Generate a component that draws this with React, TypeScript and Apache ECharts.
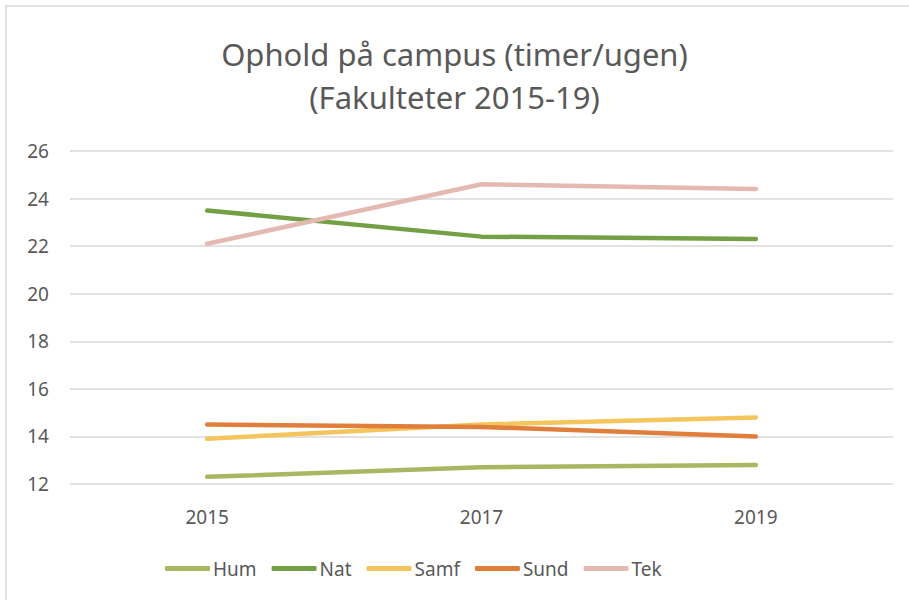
import React, { useEffect, useRef } from "react";
import * as echarts from "echarts";

const years = ["2015", "2017", "2019"];
const seriesNames = ["Hum", "Nat", "Samf", "Sund", "Tek"];
const hum = [12.3, 12.7, 12.8];
const nat = [23.5, 22.4, 22.3];
const samf = [13.9, 14.5, 14.8];
const sund = [14.5, 14.4, 14.0];
const tek = [22.1, 24.6, 24.4];
const colors = ["#A9B762", "#73A045", "#F4C55C", "#E07E3C", "#E4B9B2"];

export default function App() {
  const ref = useRef<HTMLDivElement>(null);
  useEffect(() => {
    document.body.style.margin = "0";
    const chart = echarts.init(ref.current!, null, { renderer: "svg" });
    const values = [hum, nat, samf, sund, tek];
    const font = "Noto Sans";
    chart.setOption({
      animation: false,
      backgroundColor: "#ffffff",
      textStyle: { fontFamily: font },
      title: {
        text: "Ophold på campus (timer/ugen)\n(Fakulteter 2015-19)",
        left: "center",
        top: 27,
        textStyle: { fontFamily: font, fontSize: 31, fontWeight: "normal", color: "#595959", lineHeight: 43 },
      },
      graphic: [
        {
          type: "rect",
          shape: { x: 6, y: 6, width: 930, height: 640 },
          style: { fill: "none", stroke: "#d9d9d9", lineWidth: 1.5 },
          silent: true,
        },
      ],
      legend: {
        bottom: 17,
        left: 160,
        icon: "roundRect",
        itemWidth: 45,
        itemHeight: 5,
        itemGap: 15,
        textStyle: { fontFamily: font, fontSize: 19, color: "#595959", padding: [0, 0, 0, -2] },
        data: seriesNames,
      },
      grid: { left: 70, right: 16, top: 151, bottom: 116, containLabel: false },
      xAxis: {
        type: "category",
        data: years,
        boundaryGap: true,
        axisLine: { show: false },
        axisTick: { show: false },
        axisLabel: { fontFamily: font, fontSize: 19, color: "#595959", margin: 23 },
      },
      yAxis: {
        type: "value",
        min: 12,
        max: 26,
        interval: 2,
        axisLine: { show: false },
        axisTick: { show: false },
        axisLabel: { fontFamily: font, fontSize: 19, color: "#595959", margin: 21 },
        splitLine: { lineStyle: { color: "#d9d9d9", width: 1.5 } },
      },
      series: seriesNames.map((n, i) => ({
        name: n,
        type: "line",
        data: values[i],
        symbol: "none",
        color: colors[i],
        itemStyle: { color: colors[i] },
        lineStyle: { width: 4.5, color: colors[i], cap: "round", join: "round" },
      })),
    });
    return () => chart.dispose();
  }, []);
  return <div ref={ref} style={{ width: 909, height: 600 }} />;
}
